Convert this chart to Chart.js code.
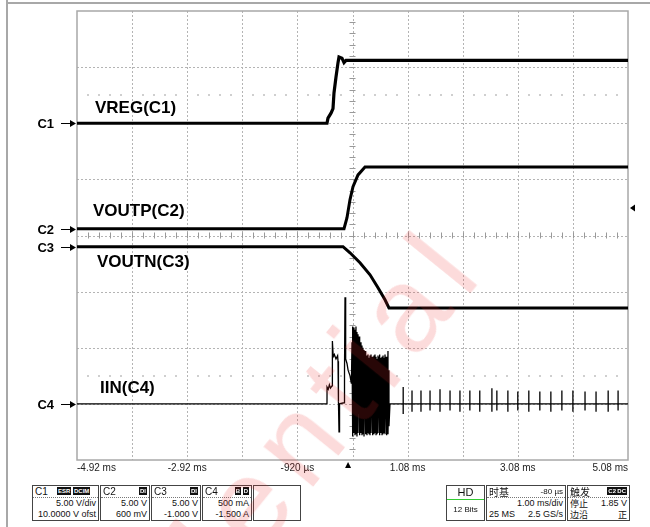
<!DOCTYPE html>
<html>
<head>
<meta charset="utf-8">
<script src="https://cdn.jsdelivr.net/npm/chart.js@4.4.1/dist/chart.umd.min.js"></script>
<style>
  body { margin: 0; background: #fff; }
  #wrap { position: relative; width: 650px; height: 527px; overflow: hidden; }
  #scope { position: absolute; left: 0; top: 0; }
  .edge { position: absolute; background: #a8a8a8; }
  .box { position: absolute; top: 485px; height: 36px; border: 1px solid #444; background: #fff;
         font-family: "Liberation Sans Narrow", "Liberation Sans", Arial, sans-serif; font-size: 9px; color: #111; box-sizing: border-box; }
  .box .hd { height: 11px; line-height: 11px; padding: 0 2px; border-bottom: 1px dotted #777; position: relative; font-size: 10px; }
  .box .bd { position: absolute; top: 1px; background: #111; color: #fff; font-size: 6px; line-height: 8px; padding: 0 1px; font-weight: bold; }
  .box .v { text-align: right; padding-right: 2px; line-height: 11px; }
  .box .row { display: flex; justify-content: space-between; padding: 0 2px; line-height: 11px; }
  .cjk { font-family: "Noto Sans CJK SC", sans-serif; }
  #mark { position: absolute; left: 0px; top: 782px; font: 120px "Liberation Sans", Arial, sans-serif; color: rgba(235, 40, 40, 0.17);
          letter-spacing: 14px; white-space: nowrap; line-height: 1; transform-origin: 0 100%; transform: rotate(-51deg); pointer-events: none; }
</style>
</head>
<body>
<div id="wrap">
  <canvas id="scope" width="650" height="527"></canvas>
  <div class="edge" style="left:6px;top:0;width:2px;height:527px"></div>
  <div class="edge" style="left:6px;top:2px;width:644px;height:2px"></div>

  <div class="box" style="left:32px;width:67px">
    <div class="hd">C1<span class="bd" style="left:24px">ESR</span><span class="bd" style="left:40px">DCIM</span></div>
    <div class="v">5.00 V/div</div><div class="v">10.0000 V ofst</div>
  </div>
  <div class="box" style="left:100px;width:50px">
    <div class="hd">C2<span class="bd" style="right:2px">DI</span></div>
    <div class="v">5.00 V</div><div class="v">600 mV</div>
  </div>
  <div class="box" style="left:151px;width:50px">
    <div class="hd">C3<span class="bd" style="right:2px">DI</span></div>
    <div class="v">5.00 V</div><div class="v">-1.000 V</div>
  </div>
  <div class="box" style="left:202px;width:50px">
    <div class="hd">C4<span class="bd" style="right:10px">B</span><span class="bd" style="right:2px">D</span></div>
    <div class="v">500 mA</div><div class="v">-1.500 A</div>
  </div>
  <div class="box" style="left:253px;width:48px"></div>

  <div class="box" style="left:446px;width:39px;text-align:center">
    <div style="font-size:11px;line-height:13px;border-bottom:1px solid #3c3">HD</div>
    <div style="line-height:20px;font-size:8px">12 Bits</div>
  </div>
  <div class="box" style="left:486px;width:80px">
    <div class="hd"><span class="cjk">时基</span><span style="position:absolute;right:2px;font-size:8px">-80 µs</span></div>
    <div class="v">1.00 ms/div</div>
    <div class="row"><span>25 MS</span><span>2.5 GS/s</span></div>
  </div>
  <div class="box" style="left:567px;width:63px">
    <div class="hd"><span class="cjk">触发</span><span class="bd" style="right:12px">C2</span><span class="bd" style="right:2px">DC</span></div>
    <div class="row"><span class="cjk">停止</span><span>1.85 V</span></div>
    <div class="row"><span class="cjk">边沿</span><span class="cjk">正</span></div>
  </div>

  <div id="mark">Confidential</div>
</div>
<script>
// time axis in ms, 1 ms/div
const timeMin = -4.92;
const timeMax = 5.08;
const timeTicks = [-4.92, -2.92, -0.92, 1.08, 3.08, 5.08];

// VREG (C1), volts
const vregT = [-4.92, -0.383, -0.365, -0.31, -0.274, -0.256, -0.22, -0.183, -0.165, -0.111, -0.074, -0.038, 5.08];
const vregV = [0, 0, 0.45, 0.9, 1.3, 2.7, 4.1, 5.4, 5.9, 5.8, 5.4, 5.6, 5.6];

// VOUTP (C2), volts
const voutpT = [-4.92, -0.074, -0.02, 0.035, 0.089, 0.18, 0.307, 5.08];
const voutpV = [0, 0, 0.98, 2.6, 3.75, 4.8, 5.5, 5.5];

// VOUTN (C3), volts
const voutnT = [-4.92, -0.092, 0.035, 0.216, 0.398, 0.543, 0.67, 0.742, 5.08];
const voutnV = [0, 0, -0.54, -1.43, -2.5, -3.66, -4.73, -5.45, -5.45];

// IIN (C4), amps: start-up steps before the burst
const iinT = [-4.92, -0.383, -0.382, -0.36, -0.34, -0.32, -0.292, -0.29, -0.28, -0.27, -0.25, -0.22, -0.19, -0.183,
              -0.175, -0.165, -0.155, -0.074, -0.065, -0.056, -0.05, -0.038, -0.02, 0.0, 0.035, 0.06];
const iinA = [0, 0, 0.15, 0.13, 0.17, 0.14, 0.16, 0.40, 0.56, 0.42, 0.44, 0.40, 0.43, 0.38,
              0.02, -0.25, 0.0, 0.01, 0.3, 0.95, 0.45, 0.40, 0.36, 0.30, 0.25, 0.18];

// switching burst: peak and trough per sample
const burstT = [0.071, 0.089, 0.107, 0.125, 0.143, 0.161, 0.18, 0.198, 0.216, 0.234, 0.252, 0.27, 0.289, 0.307,
                0.325, 0.343, 0.361, 0.379, 0.398, 0.416, 0.434, 0.452, 0.47, 0.488, 0.507, 0.525, 0.543, 0.561,
                0.579, 0.597, 0.616, 0.634, 0.652, 0.67, 0.688, 0.706, 0.724, 0.742];
const burstHi = [0.55, 0.69, 0.68, 0.66, 0.69, 0.64, 0.62, 0.60, 0.58, 0.55, 0.52, 0.50, 0.48, 0.47,
                 0.45, 0.43, 0.44, 0.41, 0.43, 0.44, 0.42, 0.41, 0.43, 0.44, 0.42, 0.40, 0.43, 0.42,
                 0.44, 0.41, 0.42, 0.43, 0.41, 0.44, 0.42, 0.40, 0.47, 0.30];
const burstLo = [-0.27, -0.29, -0.26, -0.28, -0.27, -0.29, -0.26, -0.28, -0.27, -0.26, -0.28, -0.27, -0.29, -0.26,
                 -0.27, -0.28, -0.26, -0.27, -0.28, -0.26, -0.27, -0.28, -0.27, -0.26, -0.28, -0.27, -0.26, -0.28,
                 -0.27, -0.26, -0.28, -0.27, -0.26, -0.27, -0.28, -0.26, -0.27, -0.2];

// pulse-skipping spikes after start-up
const spikeT = [1.0, 1.16, 1.323, 1.487, 1.668, 1.85, 2.03, 2.21, 2.39, 2.61, 2.70, 2.90, 3.08, 3.28,
                3.48, 3.68, 3.88, 4.08, 4.30, 4.50, 4.72, 4.90];
const spikeHi = [0.15, 0.12, 0.12, 0.12, 0.13, 0.12, 0.12, 0.12, 0.12, 0.14, 0.12, 0.12, 0.11, 0.12,
                 0.11, 0.11, 0.12, 0.12, 0.11, 0.11, 0.12, 0.12];
const spikeLo = [-0.09, -0.07, -0.07, -0.06, -0.07, -0.06, -0.07, -0.06, -0.07, -0.07, -0.06, -0.07, -0.06, -0.07,
                 -0.06, -0.07, -0.06, -0.07, -0.06, -0.07, -0.07, -0.06];

// channel scale: volts (or amps) per division and offset
const chanScale = { y1: 5, y2: 5, y3: 5, y4: 0.5 };
const chanOffset = { y1: 10, y2: 0.6, y3: -1, y4: -1.5 };
const chanNames = ['C1', 'C2', 'C3', 'C4'];
const traceNames = ['VREG(C1)', 'VOUTP(C2)', 'VOUTN(C3)', 'IIN(C4)'];
const trigLevel = 1.85;

function pairs(ts, vs) {
  return ts.map((t, i) => ({ x: t, y: vs[i] }));
}

const iinData = pairs(iinT, iinA);
burstT.forEach((t, i) => {
  iinData.push({ x: t, y: burstHi[i] });
  iinData.push({ x: t, y: burstLo[i] });
});
iinData.push({ x: 0.76, y: 0 });
spikeT.forEach((t, i) => {
  iinData.push({ x: t, y: 0 });
  iinData.push({ x: t, y: spikeHi[i] });
  iinData.push({ x: t, y: spikeLo[i] });
  iinData.push({ x: t, y: 0 });
});
iinData.push({ x: timeMax, y: 0 });

function chanAxis(id) {
  // 8 divisions, offset shifts ground away from centre
  return {
    type: 'linear', display: false,
    min: -4 * chanScale[id] - chanOffset[id],
    max: 4 * chanScale[id] - chanOffset[id]
  };
}

const graticule = {
  id: 'graticule',
  beforeDatasetsDraw(chart) {
    const { ctx, chartArea: a } = chart;
    const dx = (a.right - a.left) / 10, dy = (a.bottom - a.top) / 8;
    const cx = a.left + 5 * dx, cy = a.top + 4 * dy;
    ctx.save();
    ctx.strokeStyle = '#b4b4b4';
    ctx.lineWidth = 1;
    ctx.setLineDash([2, 2]);
    ctx.beginPath();
    for (let i = 1; i < 10; i++) {
      const x = Math.round(a.left + i * dx) + 0.5;
      ctx.moveTo(x, a.top); ctx.lineTo(x, a.bottom);
    }
    for (let j = 1; j < 8; j++) {
      const y = Math.round(a.top + j * dy) + 0.5;
      ctx.moveTo(a.left, y); ctx.lineTo(a.right, y);
    }
    ctx.stroke();
    ctx.setLineDash([]);
    // minor ticks on the centre cross
    ctx.strokeStyle = '#999';
    ctx.beginPath();
    for (let k = 1; k < 50; k++) {
      const x = Math.round(a.left + k * dx / 5) + 0.5;
      ctx.moveTo(x, cy - 3); ctx.lineTo(x, cy + 3);
    }
    for (let k = 1; k < 40; k++) {
      const y = Math.round(a.top + k * dy / 5) + 0.5;
      ctx.moveTo(cx - 3, y); ctx.lineTo(cx + 3, y);
    }
    ctx.stroke();
    // faint dot rows
    ctx.fillStyle = '#cfcfcf';
    [1.5, 6.5].forEach(j => {
      const y = Math.round(a.top + j * dy);
      for (let k = 1; k < 50; k++) {
        if (k % 5 === 0) continue;
        ctx.fillRect(Math.round(a.left + k * dx / 5) - 1, y - 1, 2, 2);
      }
    });
    // frame
    ctx.strokeStyle = '#a8a8a8';
    ctx.lineWidth = 1.5;
    ctx.strokeRect(a.left, a.top, a.right - a.left, a.bottom - a.top);
    ctx.restore();
  },
  afterDatasetsDraw(chart) {
    const { ctx, chartArea: a, scales } = chart;
    ctx.save();
    ctx.fillStyle = '#000';
    ctx.strokeStyle = '#000';
    ctx.font = 'bold 13px "Liberation Sans", Arial, sans-serif';
    ctx.textBaseline = 'middle';
    ['y1', 'y2', 'y3', 'y4'].forEach((id, i) => {
      const y = Math.round(scales[id].getPixelForValue(0));
      ctx.textAlign = 'right';
      ctx.fillText(chanNames[i], 54, y + 1);
      ctx.lineWidth = 1;
      ctx.beginPath();
      ctx.moveTo(61, y + 0.5); ctx.lineTo(a.left - 4, y + 0.5);
      ctx.stroke();
      ctx.beginPath();
      ctx.moveTo(a.left - 1, y + 0.5); ctx.lineTo(a.left - 7, y - 3); ctx.lineTo(a.left - 7, y + 4);
      ctx.closePath(); ctx.fill();
    });
    // trace names
    ctx.font = 'bold 17px "Liberation Sans", Arial, sans-serif';
    ctx.textAlign = 'left';
    const namePos = [[95, 108], [93, 211], [97, 262], [100, 388]];
    traceNames.forEach((n, i) => ctx.fillText(n, namePos[i][0], namePos[i][1]));
    // trigger position and level markers
    const tx = scales.x.getPixelForValue(0);
    ctx.beginPath();
    ctx.moveTo(tx, a.bottom + 2); ctx.lineTo(tx - 3, a.bottom + 8); ctx.lineTo(tx + 3, a.bottom + 8);
    ctx.closePath(); ctx.fill();
    const ty = scales.y2.getPixelForValue(trigLevel);
    ctx.beginPath();
    ctx.moveTo(a.right + 2, ty); ctx.lineTo(a.right + 7, ty - 3.5); ctx.lineTo(a.right + 7, ty + 3.5);
    ctx.closePath(); ctx.fill();
    ctx.restore();
  }
};

const trace = { borderColor: '#000', pointRadius: 0, tension: 0, fill: false };

new Chart(document.getElementById('scope'), {
  type: 'line',
  data: {
    datasets: [
      { ...trace, label: 'VREG', data: pairs(vregT, vregV), yAxisID: 'y1', borderWidth: 3.2 },
      { ...trace, label: 'VOUTP', data: pairs(voutpT, voutpV), yAxisID: 'y2', borderWidth: 3 },
      { ...trace, label: 'VOUTN', data: pairs(voutnT, voutnV), yAxisID: 'y3', borderWidth: 3 },
      { ...trace, label: 'IIN', data: iinData, yAxisID: 'y4', borderWidth: 1.3 }
    ]
  },
  options: {
    responsive: false,
    animation: false,
    layout: { padding: { left: 77, right: 22, top: 11, bottom: 0 } },
    plugins: { legend: { display: false }, tooltip: { enabled: false } },
    scales: {
      x: {
        type: 'linear', min: timeMin, max: timeMax,
        grid: { display: false, drawTicks: false },
        border: { display: false },
        afterBuildTicks: s => { s.ticks = timeTicks.map(v => ({ value: v })); },
        afterFit: s => { s.height = 67; },
        ticks: {
          autoSkip: false, maxRotation: 0, align: 'inner', padding: 2,
          color: '#222', font: { family: '"Liberation Sans Narrow", "Liberation Sans", Arial', size: 10 },
          callback: v => Math.abs(v) < 1 ? Math.round(v * 1000) + ' µs' : v.toFixed(2) + ' ms'
        }
      },
      y1: chanAxis('y1'),
      y2: chanAxis('y2'),
      y3: chanAxis('y3'),
      y4: chanAxis('y4')
    }
  },
  plugins: [graticule]
});
</script>
</body>
</html>
